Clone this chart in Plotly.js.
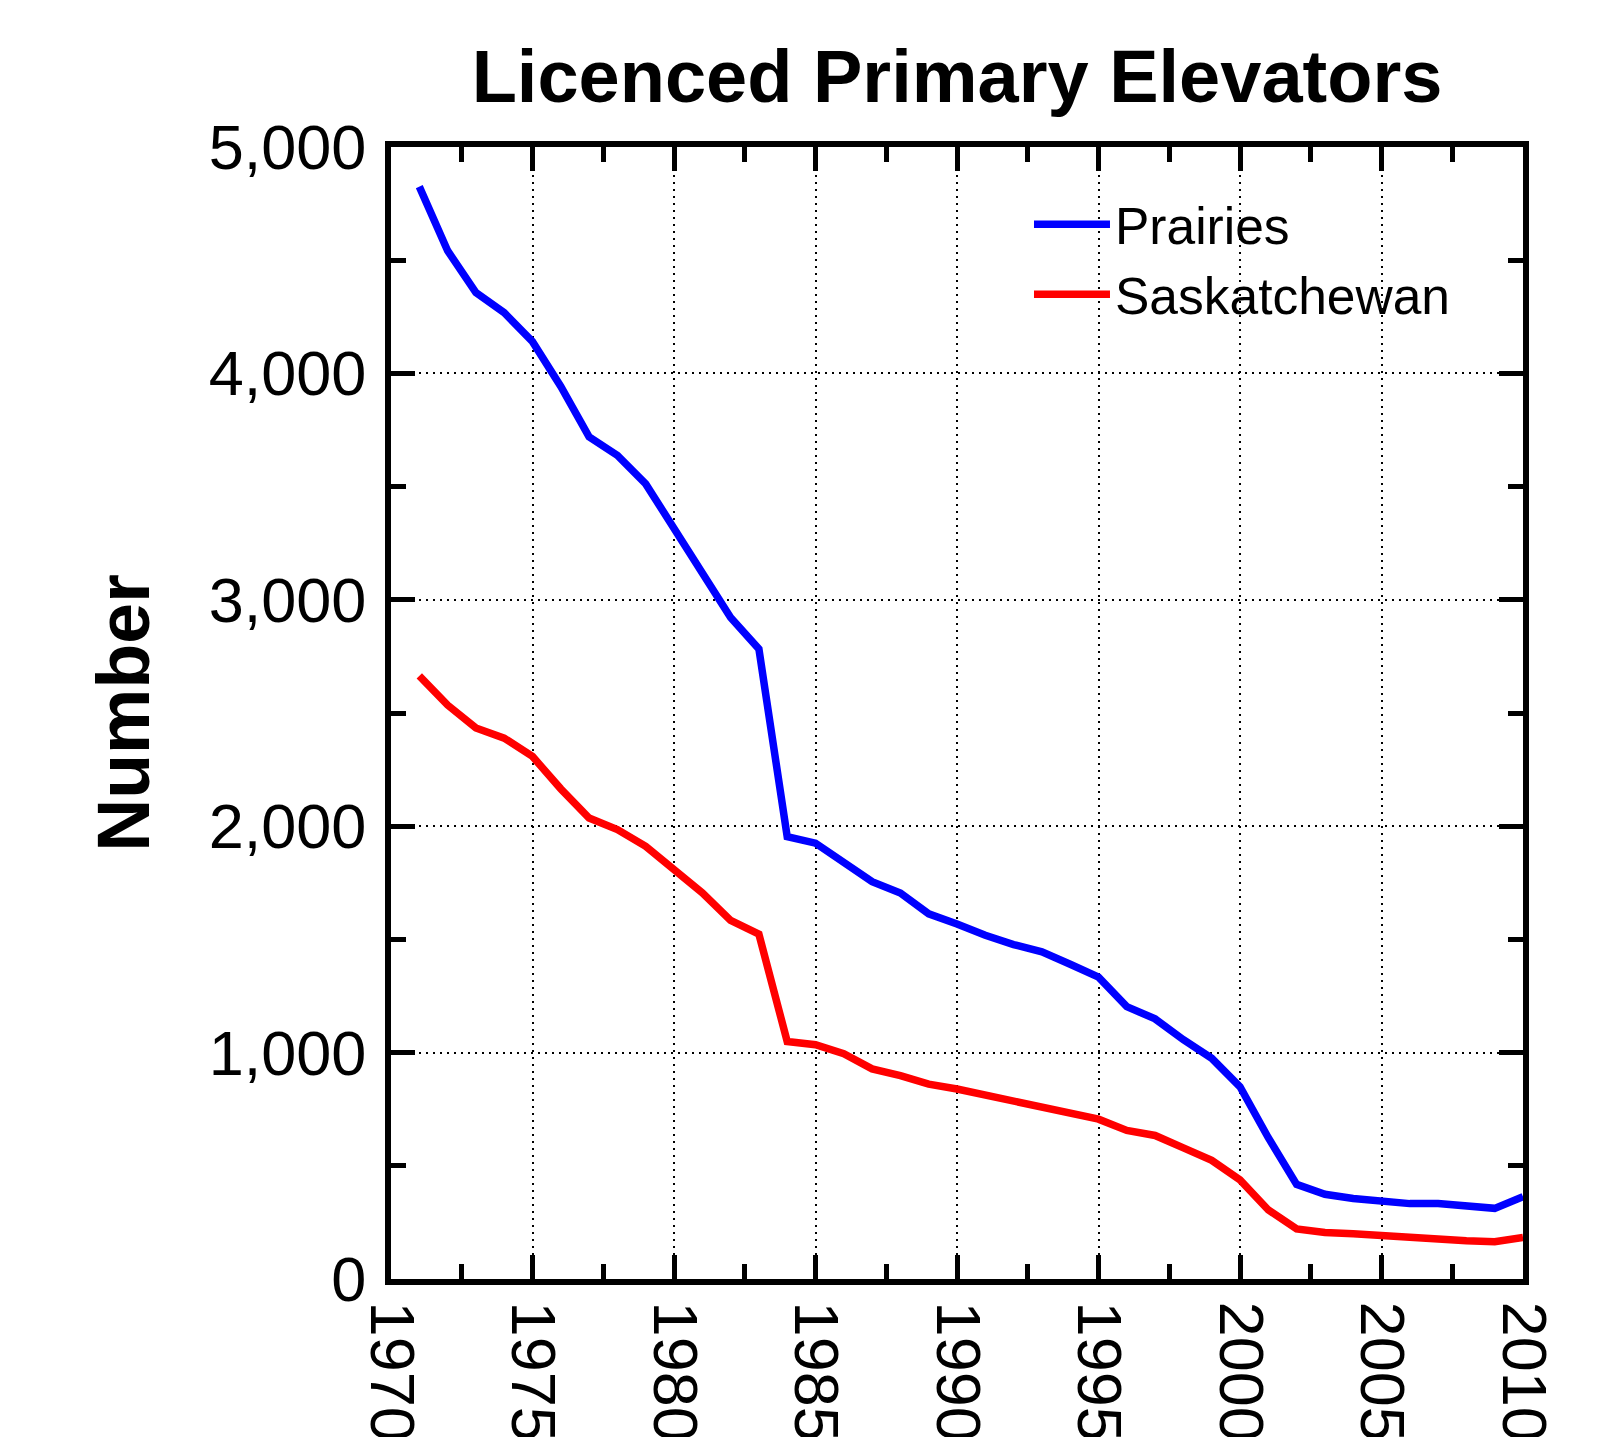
<!DOCTYPE html>
<html>
<head>
<meta charset="utf-8">
<script src="https://cdn.plot.ly/plotly-3.0.1.min.js"></script>
<style>html,body{margin:0;padding:0;background:#fff;}#chart{width:1624px;height:1437px;}</style>
</head>
<body>
<div id="chart"></div>
<script>
var years = [1971,1972,1973,1974,1975,1976,1977,1978,1979,1980,
             1981,1982,1983,1984,1985,1986,1987,1988,1989,1990,
             1991,1992,1993,1994,1995,1996,1997,1998,1999,2000,
             2001,2002,2003,2004,2005,2006,2007,2008,2009,2010];
var prairies = [4825,4542,4357,4268,4140,3942,3720,3638,3512,3314,
                3122,2922,2783,1954,1925,1840,1755,1705,1613,1568,
                1518,1477,1445,1390,1333,1203,1149,1057,975,849,
                624,418,374,356,342,333,333,319,312,364];
var saskatchewan = [2664,2535,2434,2389,2308,2165,2036,1985,1911,1805,
                    1706,1584,1523,1049,1035,995,928,898,861,839,
                    811,784,761,729,706,656,634,579,524,438,
                    305,221,205,200,191,182,173,169,165,184];
var seriesNames = ["Prairies", "Saskatchewan"];
var seriesColors = ["#0000ff", "#ff0000"];
var xTicks = [1970,1975,1980,1985,1990,1995,2000,2005,2010];
var yTicks = [0,1000,2000,3000,4000,5000];

var font = "Liberation Sans, Arial, Helvetica, sans-serif";

var traces = [prairies, saskatchewan].map(function (vals, i) {
  return {
    x: years, y: vals, type: "scatter", mode: "lines",
    name: seriesNames[i],
    line: {color: seriesColors[i], width: 7.5}
  };
});

var axisCommon = {
  showline: true, linecolor: "#000", linewidth: 6, mirror: "ticks",
  ticks: "inside", ticklen: 24, tickwidth: 5, tickcolor: "#000",
  showgrid: true, gridcolor: "#000", gridwidth: 2, griddash: "2px,5px",
  zeroline: false,
  tickfont: {family: font, size: 63, color: "#000"}
};

var layout = {
  width: 1624, height: 1437,
  paper_bgcolor: "#fff", plot_bgcolor: "#fff",
  margin: {l: 391, r: 101, t: 147, b: 158, pad: 0},
  title: {
    text: "<b>Licenced Primary Elevators</b>",
    font: {family: font, size: 74, color: "#000"},
    x: 0.5, xref: "paper", xanchor: "center",
    y: 0.947, yref: "container", yanchor: "middle"
  },
  xaxis: Object.assign({}, axisCommon, {
    range: [1970, 2010],
    tickmode: "array", tickvals: xTicks, ticktext: xTicks.map(String),
    tickangle: 90,
    ticklabelstandoff: 4,
    minor: {ticks: "inside", ticklen: 15, tickwidth: 5, tickcolor: "#000", dtick: 2.5, tick0: 1970, showgrid: false}
  }),
  yaxis: Object.assign({}, axisCommon, {
    range: [0, 5000],
    tickmode: "array", tickvals: yTicks,
    ticktext: yTicks.map(function (v) { return v.toLocaleString("en-US"); }),
    ticklabelstandoff: 6,
    minor: {ticks: "inside", ticklen: 15, tickwidth: 5, tickcolor: "#000", dtick: 500, tick0: 0, showgrid: false},
    title: {text: "<b>Number</b>", font: {family: font, size: 73.5, color: "#000"}, standoff: 37}
  }),
  legend: {
    x: 0.5636, xanchor: "left", y: 0.967, yanchor: "top",
    bgcolor: "rgba(255,255,255,0)", borderwidth: 0,
    font: {family: font, size: 51.5, color: "#000"},
    itemwidth: 76,
    tracegroupgap: 0
  },
  showlegend: true
};

Plotly.newPlot("chart", traces, layout, {displayModeBar: false, staticPlot: true});
</script>
</body>
</html>
